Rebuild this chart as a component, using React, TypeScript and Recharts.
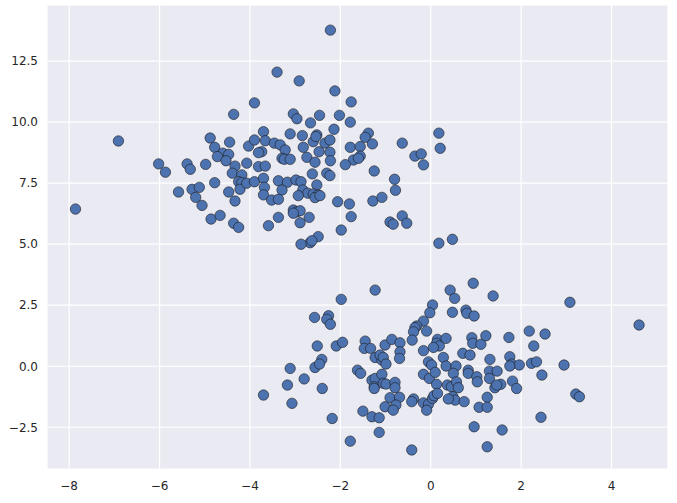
import React from 'react';
import { ScatterChart, Scatter, XAxis, YAxis, CartesianGrid } from 'recharts';

// upper-left blob
const upperX = [
  -4.36, -2.22, -3.40, -2.91, -2.12, -3.90, -1.76, -3.04, -2.96, -2.46, -2.02, -2.66, -1.78, -2.14,
  -4.88, -4.45, -4.78, -4.60, -4.72, -4.47, -4.53, -6.02, -5.87, -5.39, -5.32, -4.98, -4.33, -4.39,
  -4.18, -4.78, -4.25, -4.18, -4.22, -5.58, -5.28, -5.12, -5.20, -4.47, -5.06, -4.33, -4.86, -4.66,
  -4.36, -4.25, -3.70, -3.11, -2.84, -2.52, -4.03, -3.90, -3.66, -3.46, -3.33, -3.22, -3.74, -3.81,
  -3.29, -3.24, -3.11, -2.82, -2.60, -2.54, -2.34, -2.23, -2.47, -2.23, -2.74, -2.56, -2.22, -1.78,
  -1.71, -1.89, -4.07, -3.81, -3.66, -2.62, -2.30, -2.23, -4.07, -3.90, -3.70, -3.37, -3.17, -2.98,
  -2.87, -2.52, -3.68, -3.29, -2.83, -2.72, -2.60, -2.49, -2.56, -2.45, -2.93, -3.70, -3.52, -3.37,
  -2.06, -1.80, -3.04, -2.96, -2.89, -3.04, -3.37, -2.69, -2.89, -1.76, -3.59, -1.98, -2.49, -2.67,
  -2.63, -2.87, -1.38, -1.45, -1.56, -1.29, -1.56, -1.60, -0.63, -0.35, -0.21, -0.16, 0.18, 0.21,
  -1.25, -0.80, -0.78, -1.28, -1.08, -0.90, -0.83, -0.63, -0.53, 0.18, 0.48, -7.86, -6.91,
];
const upperY = [
  10.32, 13.77, 12.05, 11.69, 11.28, 10.79, 10.83, 10.34, 10.14, 10.28, 10.28, 9.97, 10.0, 9.71,
  9.35, 9.18, 8.97, 8.73, 8.59, 8.68, 8.42, 8.29, 7.95, 8.29, 8.07, 8.27, 8.2, 7.91,
  7.84, 7.52, 7.56, 7.52, 7.25, 7.14, 7.25, 7.33, 6.92, 7.14, 6.59, 6.77, 6.03, 6.18,
  5.86, 5.69, 9.61, 9.52, 9.45, 9.48, 9.02, 9.27, 9.24, 9.14, 9.07, 8.86, 8.79, 8.75,
  8.52, 8.48, 8.48, 8.97, 9.2, 9.41, 9.14, 9.27, 8.79, 8.77, 8.56, 8.36, 8.42, 8.97,
  8.45, 8.26, 8.32, 8.18, 8.2, 7.88, 7.91, 7.81, 7.5, 7.56, 7.7, 7.6, 7.54, 7.63,
  7.56, 7.43, 7.33, 7.22, 7.22, 7.09, 7.06, 7.02, 6.91, 6.99, 6.99, 7.02, 6.81, 6.84,
  6.74, 6.65, 6.4, 6.33, 6.37, 6.27, 6.1, 6.1, 5.88, 6.13, 5.76, 5.58, 5.31, 5.06,
  5.14, 5.0, 9.55, 9.38, 9.0, 9.11, 8.61, 8.52, 9.14, 8.61, 8.7, 8.25, 9.55, 8.93,
  8.0, 7.66, 7.21, 6.77, 6.92, 5.91, 5.82, 6.16, 5.86, 5.04, 5.2, 6.44, 9.23,
];

// lower-right blob
const lowerX = [
  -1.23, -1.98, -2.57, -2.26, -2.30, -2.22, -2.51, -2.09, -1.95, -1.45, -1.47, -1.33, -1.23, -1.08,
  -1.12, -1.01, -3.11, -2.56, -2.41, -2.46, -1.62, 0.94, 0.43, 0.53, 1.38, 0.04, -0.02, 0.48,
  0.78, 0.80, 0.96, -0.16, -0.31, -0.35, -0.38, -0.09, -0.86, -0.68, -0.41, 0.15, 0.13, 0.19,
  0.06, 0.34, -0.16, 0.91, 0.93, 1.11, 1.22, 1.73, -0.68, -0.69, -1.05, -0.99, 0.71, 0.87,
  0.28, 1.31, 1.75, 1.79, -0.05, 0.02, 0.34, 0.56, 0.83, 3.08, 4.61, 2.18, 2.53, 2.28,
  1.96, 2.23, 2.34, 2.95, -2.80, -3.17, -2.40, -3.70, -3.07, -2.18, -1.78, -1.55, -1.30, -1.23,
  -1.08, -1.25, -1.25, -1.05, -1.50, -1.30, -1.14, -1.01, -1.14, -0.99, -0.79, -0.79, -0.90, -0.69,
  -0.77, -0.83, -0.42, -0.38, -0.42, -0.16, -0.03, 0.10, 0.13, -0.16, -0.05, -0.09, 0.04, 0.07,
  0.15, 0.50, 0.37, 0.46, 0.57, 0.61, 0.49, 0.54, 0.39, 0.74, 0.83, 1.02, 1.03, 1.30,
  1.47, 1.30, 1.42, 1.55, 1.46, 1.75, 1.25, 1.07, 1.25, 0.96, 1.58, 1.25, 2.46, 1.81,
  1.90, 3.21, 3.29, 2.44,
];
const lowerY = [
  3.12, 2.74, 2.0, 2.07, 1.92, 1.72, 0.83, 0.83, 0.98, 1.03, 0.73, 0.73, 0.36, 0.25,
  0.46, 0.87, -0.09, -0.05, 0.28, 0.09, -0.16, 3.4, 3.12, 2.78, 2.88, 2.51, 2.19, 2.21,
  2.3, 2.17, 2.06, 1.85, 1.65, 1.58, 1.41, 1.44, 1.1, 0.96, 1.07, 1.1, 0.94, 0.83,
  0.77, 1.14, 0.64, 1.17, 0.94, 0.9, 1.25, 1.18, 0.59, 0.32, 0.36, 0.09, 0.53, 0.46,
  0.36, 0.28, 0.39, 0.09, 0.18, 0.05, 0.01, 0.01, -0.16, 2.62, 1.69, 1.44, 1.32, 0.83,
  0.05, 0.12, 0.18, 0.05, -0.52, -0.77, -0.91, -1.18, -1.52, -2.14, -3.07, -0.29, -0.57, -0.5,
  -0.33, -0.84, -0.91, -0.7, -1.84, -2.07, -2.11, -1.66, -2.71, -0.73, -0.66, -0.88, -1.29, -1.27,
  -1.59, -1.8, -3.43, -1.34, -1.45, -0.33, -0.5, -0.25, -0.74, -1.5, -1.56, -1.8, -1.32, -1.21,
  -1.11, -0.29, -0.77, -0.84, -0.64, -0.88, -1.25, -1.39, -1.34, -1.45, -0.29, -0.43, -0.64, -0.2,
  -0.2, -0.5, -0.88, -0.74, -0.77, 0.01, -1.27, -1.68, -1.68, -2.48, -2.61, -3.3, -0.36, -0.61,
  -0.91, -1.14, -1.25, -2.09,
];

const xTicks = [-8, -6, -4, -2, 0, 2, 4];
const yTicks = [-2.5, 0, 2.5, 5, 7.5, 10, 12.5];

const points = [
  ...upperX.map((x, i) => ({ x, y: upperY[i] })),
  ...lowerX.map((x, i) => ({ x, y: lowerY[i] })),
];

const minus = (s: string) => s.replace('-', '\u2212');

const Dot = (props: any) => (
  <circle cx={props.cx} cy={props.cy} r={5.2} fill="#4C72B0" stroke="#1a1a1a" strokeWidth={0.6} />
);

export default function App() {
  const tickStyle = { fill: '#262626', fontSize: 12, fontFamily: 'DejaVu Sans, sans-serif' };
  return (
    <div style={{ position: 'absolute', left: 0, top: 0, width: 677, height: 503, background: '#fff' }}>
      <ScatterChart width={677} height={503} margin={{ top: 5, right: 9, bottom: 4, left: 7 }}>
        <CartesianGrid fill="#EAEAF2" stroke="#ffffff" strokeWidth={1.2} />
        <XAxis
          type="number"
          dataKey="x"
          domain={[-8.49, 5.25]}
          ticks={xTicks}
          height={30}
          axisLine={false}
          tickLine={false}
          tickMargin={6}
          tick={tickStyle}
          tickFormatter={(v: number) => minus(String(v))}
          allowDataOverflow
        />
        <YAxis
          type="number"
          dataKey="y"
          domain={[-4.21, 14.8]}
          ticks={yTicks}
          width={40}
          axisLine={false}
          tickLine={false}
          tickMargin={3}
          tick={tickStyle}
          tickFormatter={(v: number) => minus(v.toFixed(1))}
          allowDataOverflow
        />
        <Scatter data={points} shape={Dot} isAnimationActive={false} />
      </ScatterChart>
    </div>
  );
}
